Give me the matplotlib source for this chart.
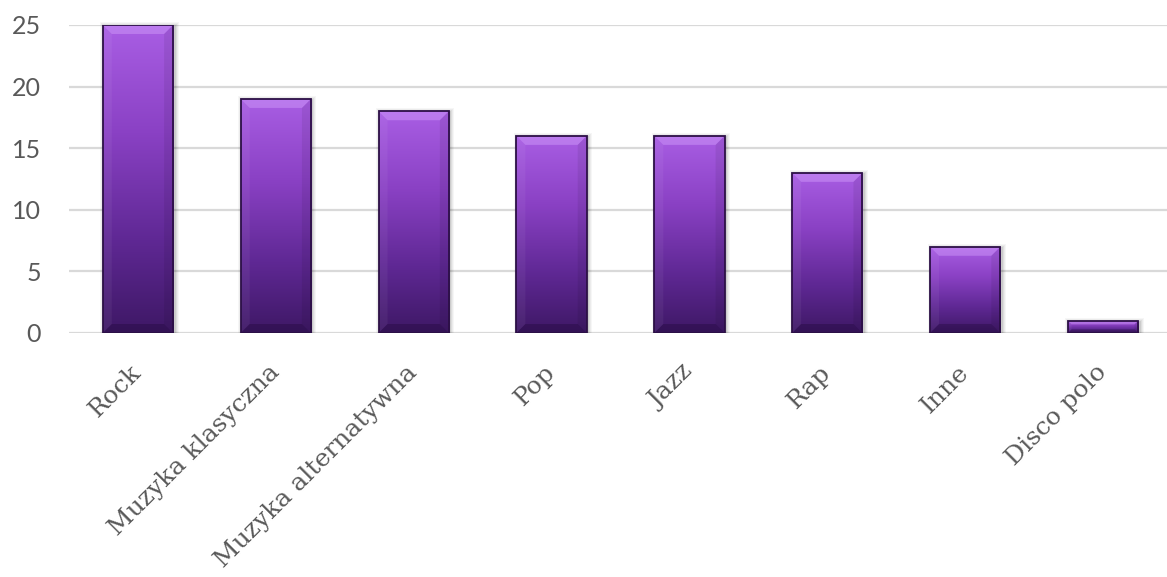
import numpy as np
import matplotlib
matplotlib.use("Agg")
import matplotlib.pyplot as plt
from matplotlib.colors import LinearSegmentedColormap
from matplotlib.patches import Polygon, Rectangle

categories = ["Rock", "Muzyka klasyczna", "Muzyka alternatywna", "Pop", "Jazz", "Rap", "Inne", "Disco polo"]
values = [25, 19, 18, 16, 16, 13, 7, 1]
yticks = [0, 5, 10, 15, 20, 25]

W, H = 1167, 577
fig = plt.figure(figsize=(W / 100, H / 100), dpi=100)
ax = fig.add_axes([69 / W, 1 - 333 / H, 1103 / W, (333 - 25) / H])

x = np.arange(len(categories))
bw = 0.51
bars = ax.bar(x, values, width=bw, color="none", edgecolor="none", zorder=3)
ax.set_xlim(-0.5, len(categories) - 0.5)
ax.set_ylim(0, 25)

cmap = LinearSegmentedColormap.from_list(
    "pur", [(0.0, "#a95ee4"), (0.35, "#8a41c4"), (0.7, "#5f2894"), (1.0, "#3e1865")])
grad = np.linspace(0, 1, 256).reshape(-1, 1)

# pixel -> data conversion
p2x = (len(categories)) / (1103)
p2y = 25 / (333 - 25)

for b in bars:
    x0, w, h = b.get_x(), b.get_width(), b.get_height()
    x1 = x0 + w
    # soft shadow
    for k, a in [(4, 0.035), (3, 0.045), (2, 0.06), (1, 0.08)]:
        ax.add_patch(Rectangle((x0 - k * p2x + 1.5 * p2x, -0.0), w + 2 * k * p2x, h + k * p2y - 1.0 * p2y,
                               facecolor="#000000", edgecolor="none", alpha=a, zorder=2, clip_on=False))
    rect = Rectangle((x0, 0), w, h, facecolor="none", edgecolor="none", transform=ax.transData)
    ax.add_patch(rect)
    im = ax.imshow(grad, extent=(x0, x1, 0, h), origin="upper", aspect="auto", cmap=cmap, zorder=3,
                   interpolation="bilinear")
    im.set_clip_path(rect)
    dpx = min(9, 0.3 * h / p2y)
    dx, dy = dpx * p2x, dpx * p2y
    ax.add_patch(Polygon([(x0, h), (x1, h), (x1 - dx, h - dy), (x0 + dx, h - dy)],
                         closed=True, facecolor="#d9a8ff", edgecolor="none", alpha=0.4, zorder=4))
    ax.add_patch(Polygon([(x0, 0), (x1, 0), (x1 - dx, dy), (x0 + dx, dy)],
                         closed=True, facecolor="#1a0530", edgecolor="none", alpha=0.3, zorder=4))
    ax.add_patch(Polygon([(x0, 0), (x0, h), (x0 + dx, h - dy), (x0 + dx, dy)],
                         closed=True, facecolor="#ffffff", edgecolor="none", alpha=0.05, zorder=4))
    ax.add_patch(Polygon([(x1, 0), (x1, h), (x1 - dx, h - dy), (x1 - dx, dy)],
                         closed=True, facecolor="#000000", edgecolor="none", alpha=0.07, zorder=4))
    ax.add_patch(Rectangle((x0, 0), w, h, facecolor="none", edgecolor="#2c1046", linewidth=1.3, zorder=5))

ax.set_aspect("auto")
ax.set_xlim(-0.5, len(categories) - 0.5)
ax.set_ylim(0, 25)

ax.set_yticks(yticks)
ax.set_yticklabels([str(t) for t in yticks], fontsize=18, color="#595959", family=["Lato", "DejaVu Sans"])
ax.yaxis.grid(True, color="#d9d9d9", linewidth=1.6, zorder=0)
ax.set_axisbelow(True)
ax.tick_params(axis="y", length=0, pad=20)
ax.set_xticks(x)
ax.set_xticklabels(categories, rotation=45, ha="right", va="center", rotation_mode="anchor",
                   fontsize=18, color="#595959", family=["DejaVu Serif"])
ax.tick_params(axis="x", length=0, pad=26)
for s in ax.spines.values():
    s.set_visible(False)

fig.savefig("out.png", dpi=100)
